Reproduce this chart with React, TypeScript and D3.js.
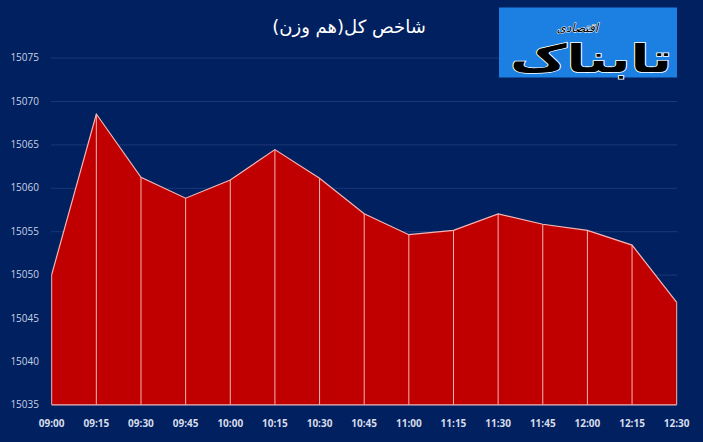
import React from "react";
import * as d3 from "d3";

const times = ["09:00","09:15","09:30","09:45","10:00","10:15","10:30","10:45","11:00","11:15","11:30","11:45","12:00","12:15","12:30"];
const values = [15050.0,15068.5,15061.2,15058.8,15060.9,15064.4,15061.1,15057.0,15054.6,15055.1,15057.0,15055.8,15055.1,15053.4,15046.8];
const yTicks = [15035,15040,15045,15050,15055,15060,15065,15070,15075];
const title = "شاخص کل(هم وزن)";
const logoMain = "تابناک";
const logoSub = "اقتصادی";

const W = 703, H = 442;
const BG = "#002060";
const FILL = "#C00000";
const EDGE = "#F4B6B6";

export default function App() {
  const x = d3.scalePoint<string>().domain(times).range([51.7, 676.7]);
  const y = d3.scaleLinear().domain([15035, 15075]).range([404.8, 57.6]);
  const pts = times.map((t, i) => ({ t, v: values[i] }));
  const area = d3.area<any>().x(d => x(d.t)!).y0(y(15035)).y1(d => y(d.v));
  const line = d3.line<any>().x(d => x(d.t)!).y(d => y(d.v));
  return (
    <svg width={W} height={H} style={{ position: "absolute", left: 0, top: 0, display: "block" }}>
      <rect x={0} y={0} width={W} height={H} fill={BG} />
      {yTicks.map(v => (
        <g key={v}>
          {v > 15035 && (
            <line x1={51.7} x2={677} y1={y(v) + 0.5} y2={y(v) + 0.5} stroke="#34508f" strokeWidth={1} strokeDasharray="1 1" />
          )}
          <text x={39} y={y(v) + 3.5} textAnchor="end" fontFamily="Open Sans, sans-serif" fontSize={10} fill="#C9D1E3">{v}</text>
        </g>
      ))}
      <path d={area(pts)!} fill={FILL} />
      {pts.map(p => (
        <line key={p.t} x1={x(p.t)} x2={x(p.t)} y1={y(p.v)} y2={y(15035)} stroke={EDGE} strokeWidth={1} />
      ))}
      <path d={line(pts)!} fill="none" stroke={EDGE} strokeWidth={1.2} />
      <line x1={51.7} x2={676.7} y1={y(15035)} y2={y(15035)} stroke={EDGE} strokeWidth={1.2} />
      {times.map(t => (
        <text key={t} x={x(t)} y={427} textAnchor="middle" fontFamily="Open Sans, sans-serif" fontWeight="bold" fontSize={10} fill="#D6DCEA">{t}</text>
      ))}
      <text x={349} y={33} textAnchor="middle" fontFamily="DejaVu Sans, sans-serif" fontSize={18} fill="#FFFFFF">{title}</text>
      <g>
        <rect x={499} y={7.5} width={178} height={70} fill="#1C7FE2" />
        <text x={672} y={72} textAnchor="end" fontFamily="DejaVu Sans, sans-serif" fontWeight="bold" fontSize={38} textLength={162} lengthAdjust="spacingAndGlyphs" fill="#000" stroke="#fff" strokeWidth={1.4} paintOrder="stroke">{logoMain}</text>
        <text x={598} y={32} textAnchor="end" fontFamily="DejaVu Sans, sans-serif" fontStyle="italic" fontSize={12} fill="#000" stroke="#fff" strokeWidth={1} paintOrder="stroke">{logoSub}</text>
      </g>
    </svg>
  );
}
